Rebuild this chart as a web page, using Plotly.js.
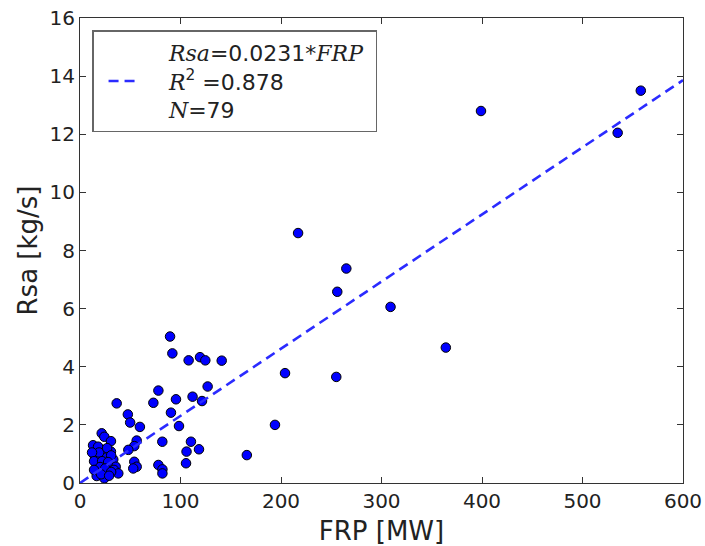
<!DOCTYPE html>
<html>
<head>
<meta charset="utf-8">
<script src="https://cdn.plot.ly/plotly-3.0.1.min.js"></script>
<style>html,body{margin:0;padding:0;background:#fff;}#chart{width:705px;height:546px;}</style>
</head>
<body>
<div id="chart"></div>
<script>
// FRP [MW] values
const frp = [
  558, 399, 535, 217, 265, 256, 309, 364, 255, 204, 194, 166,
  89.6, 91.9, 108.1, 119.4, 124.7, 141, 78, 73, 95.5, 112, 121.4, 127,
  36.5, 47.6, 49.9, 59.6, 90.5, 98.5, 56.4, 54, 48.1, 81.9, 110.4, 118.4,
  106, 105.5, 54, 56.4, 53, 78, 82, 82,
  21.6, 24.2, 30.8, 14.9, 23.2, 30.8, 14.9, 20.9, 26.5, 33.1,
  16.6, 23.2, 29.2, 35.5, 18.2, 26.5, 33.8, 38.1, 16.6, 24.2,
  13, 18, 19, 12, 27, 31, 14, 22, 28, 20, 25, 31, 14, 21, 29
];
// Rsa [kg/s] values
const rsa = [
  13.5, 12.8, 12.05, 8.6, 7.38, 6.58, 6.06, 4.66, 3.65, 3.78, 2.0, 0.96,
  5.04, 4.46, 4.22, 4.33, 4.22, 4.21, 3.18, 2.76, 2.88, 2.97, 2.82, 3.32,
  2.74, 2.36, 2.08, 1.93, 2.42, 1.96, 1.46, 1.27, 1.14, 1.42, 1.42, 1.16,
  1.08, 0.68, 0.73, 0.56, 0.5, 0.62, 0.47, 0.33,
  1.71, 1.59, 1.44, 1.23, 1.14, 1.08, 0.91, 0.88, 0.88, 0.81,
  0.65, 0.65, 0.62, 0.56, 0.45, 0.42, 0.45, 0.33, 0.24, 0.16,
  1.3, 1.25, 1.05, 1.05, 1.2, 0.95, 0.75, 0.75, 0.72, 0.55, 0.5, 0.38, 0.45, 0.3, 0.25
];
const slope = 0.0231;
const r2 = 0.878;
const nPts = 79;
const xRange = [0, 600];
const yRange = [0, 16];

const fitX = xRange.slice();
const fitY = fitX.map(v => slope * v);

const pad = '\u00a0\u00a0\u00a0\u2009';
const serif = (s) => '<span style="font-family:\'DejaVu Serif\';font-style:italic">' + s + '</span>';
const legendText = pad + serif('Rsa') + '=' + slope + '*' + serif('FRP') + '\u00a0<br>' +
  pad + serif('R') + '<sup>2</sup> =' + r2 + '<br>' + pad + serif('N') + '=' + nPts;

const traces = [
  {
    x: frp, y: rsa, type: 'scatter', mode: 'markers', showlegend: false,
    marker: {color: '#0000ff', size: 9.5, line: {color: '#000000', width: 1}}
  },
  {
    x: fitX, y: fitY, type: 'scatter', mode: 'lines', name: legendText,
    line: {color: '#2b2bff', width: 2.6, dash: '10px,6px'}
  }
];

const axisCommon = {
  showgrid: false, zeroline: false, showline: true, linecolor: '#333', linewidth: 1,
  mirror: 'ticks', ticks: 'inside', ticklen: 6, tickcolor: '#333',
  tickfont: {family: 'DejaVu Sans', size: 20, color: '#222'}
};

const layout = {
  width: 705, height: 546,
  margin: {l: 80, r: 22, t: 18, b: 63},
  paper_bgcolor: '#fff', plot_bgcolor: '#fff',
  font: {family: 'DejaVu Sans', color: '#222'},
  xaxis: Object.assign({}, axisCommon, {
    range: xRange, dtick: 100, tick0: 0,
    title: {text: 'FRP [MW]', font: {family: 'DejaVu Sans', size: 26, color: '#222'}, standoff: 10}
  }),
  yaxis: Object.assign({}, axisCommon, {
    range: yRange, dtick: 2, tick0: 0,
    title: {text: 'Rsa [kg/s]', font: {family: 'DejaVu Sans', size: 26, color: '#222'}, standoff: 4}
  }),
  legend: {
    x: 0.02, y: 0.974, xanchor: 'left', yanchor: 'top',
    bordercolor: '#666', borderwidth: 1.5, bgcolor: '#fff',
    font: {family: 'DejaVu Sans', size: 22, color: '#222'},
    itemwidth: 30, indentation: 10
  },
  showlegend: true
};

Plotly.newPlot('chart', traces, layout, {displayModeBar: false, staticPlot: true});
</script>
</body>
</html>
